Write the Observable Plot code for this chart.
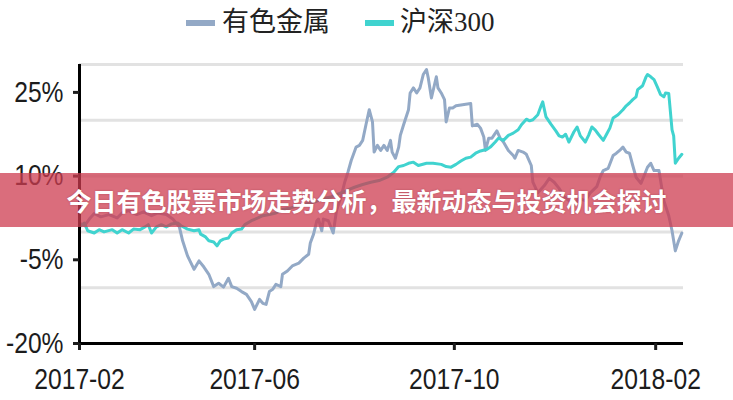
<!DOCTYPE html>
<html>
<head>
<meta charset="utf-8">
<script src="https://cdn.jsdelivr.net/npm/d3@7"></script>
<script src="https://cdn.jsdelivr.net/npm/@observablehq/plot@0.6"></script>
<style>
  body { margin: 0; background: #fff; }
  #wrap { position: relative; width: 733px; height: 400px; overflow: hidden; background: #fff; }
  #legend { position: relative; height: 46px; width: 733px; }
  .sw { position: absolute; height: 6px; width: 29px; }
  .lt { position: absolute; top: 5px; font-family: "Liberation Serif", "Noto Sans CJK SC", serif; font-weight: 400; font-size: 27px; line-height: 34px; color: #222; white-space: nowrap; }
  #banner { position: absolute; left: 0; top: 173px; width: 733px; height: 54px; background: rgba(205, 60, 80, 0.75); display: flex; align-items: center; justify-content: center; }
  #banner span { color: #fff; font-family: "Noto Sans CJK SC", sans-serif; font-weight: 700; font-size: 25px; white-space: nowrap; text-shadow: 0 0 2px rgba(120,20,40,0.4); }
</style>
</head>
<body>
<div id="wrap">
  <div id="legend"></div>
  <div id="chart"></div>
  <div id="banner"><span id="bannerText"></span></div>
</div>
<script>
// ---- data ----
const seriesNames = ["有色金属", "沪深300"];
const seriesColors = ["#93a9c6", "#40d3cf"];
const bannerTitle = "今日有色股票市场走势分析，最新动态与投资机会探讨";

const yTickValues = [25, 10, -5, -20];
const gridValues = [30, 20, 10, 0, -10];
const xTickDates = ["2017-02-14", "2017-06-01", "2017-10-01", "2018-02-01"];
const xTickLabels = ["2017-02", "2017-06", "2017-10", "2018-02"];
const xDomain = ["2017-02-14", "2018-02-18"];
const yDomain = [-20, 30];

// 有色金属
const metalDates = [
"2017-02-14","2017-02-17","2017-02-20","2017-02-23","2017-02-27","2017-03-04","2017-03-09","2017-03-12","2017-03-16","2017-03-21",
"2017-03-25","2017-03-30","2017-04-03","2017-04-08","2017-04-12","2017-04-16","2017-04-18","2017-04-21","2017-04-25","2017-04-28",
"2017-05-01","2017-05-04","2017-05-07","2017-05-10","2017-05-13","2017-05-16","2017-05-18","2017-05-21","2017-05-24","2017-05-27",
"2017-05-30","2017-06-01","2017-06-04","2017-06-06","2017-06-08","2017-06-10","2017-06-12","2017-06-14","2017-06-17","2017-06-18",
"2017-06-21","2017-06-24","2017-06-28","2017-07-01","2017-07-04","2017-07-05","2017-07-07","2017-07-09","2017-07-10","2017-07-12",
"2017-07-13","2017-07-16","2017-07-19","2017-07-21","2017-07-24","2017-07-26","2017-07-28","2017-07-30","2017-08-02","2017-08-04",
"2017-08-06","2017-08-08","2017-08-10","2017-08-12","2017-08-13","2017-08-15","2017-08-17","2017-08-19","2017-08-21","2017-08-23",
"2017-08-24","2017-08-26","2017-08-28","2017-08-29","2017-08-31","2017-09-03","2017-09-04","2017-09-06","2017-09-08","2017-09-10",
"2017-09-12","2017-09-14","2017-09-15","2017-09-17","2017-09-20","2017-09-21","2017-09-23","2017-09-25","2017-09-26","2017-09-28",
"2017-09-30","2017-10-02","2017-10-06","2017-10-11","2017-10-12","2017-10-15","2017-10-17","2017-10-19","2017-10-20","2017-10-22",
"2017-10-24","2017-10-27","2017-10-29","2017-10-31","2017-11-03","2017-11-06","2017-11-07","2017-11-09","2017-11-12","2017-11-14",
"2017-11-17","2017-11-18","2017-11-21","2017-11-25","2017-11-28","2017-12-01","2017-12-04","2017-12-07","2017-12-10","2017-12-13",
"2017-12-16","2017-12-20","2017-12-23","2017-12-27","2017-12-29","2017-12-31","2018-01-03","2018-01-06","2018-01-08","2018-01-10",
"2018-01-12","2018-01-14","2018-01-16","2018-01-18","2018-01-20","2018-01-23","2018-01-25","2018-01-27","2018-01-29","2018-01-31",
"2018-02-03","2018-02-05","2018-02-06","2018-02-09","2018-02-11","2018-02-13","2018-02-15","2018-02-17"
];
const metalValues = [
1.6,1.1,2.3,3.3,2.7,3.1,2.5,3.4,3.8,3.1,
3.6,2.9,3.4,3.1,2.3,0.9,-1.6,-4.3,-6.7,-5.2,
-6.3,-7.6,-9.8,-9.2,-9.9,-8.3,-9.8,-10.1,-10.7,-11.2,
-12.5,-13.9,-12.1,-12.8,-13.0,-10.7,-10.3,-9.4,-9.8,-7.6,
-7.0,-6.1,-5.6,-4.7,-4.0,-2.0,-0.4,2.0,2.3,0.2,
2.3,2.0,-0.2,3.8,6.5,8.9,10.7,12.8,15.2,15.5,
16.4,19.2,21.9,19.7,14.3,15.5,14.6,15.5,14.6,16.4,
14.3,13.2,15.2,17.3,19.2,21.9,24.9,25.8,24.9,25.8,
28.2,29.1,27.7,24.0,27.8,25.8,24.9,23.7,19.7,22.2,
22.2,22.6,22.8,23.0,19.0,19.3,18.6,17.0,14.6,16.8,
16.8,18.1,16.8,16.1,14.6,13.7,13.2,14.6,14.3,13.9,
11.9,8.9,7.0,8.3,9.6,8.9,7.8,6.3,5.6,4.7,
6.0,5.6,7.0,8.1,9.8,11.0,11.4,13.7,14.1,14.6,
15.2,14.3,14.1,11.9,9.8,8.7,10.1,11.6,12.3,11.0,
11.0,7.4,5.6,2.9,0.2,-3.4,-1.6,-0.2
];

// 沪深300
const hs300Dates = [
"2017-02-14","2017-02-17","2017-02-19","2017-02-23","2017-02-26","2017-03-01","2017-03-06","2017-03-09","2017-03-12","2017-03-16",
"2017-03-19","2017-03-23","2017-03-26","2017-03-28","2017-03-30","2017-04-02","2017-04-05","2017-04-08","2017-04-11","2017-04-15",
"2017-04-17","2017-04-21","2017-04-25","2017-04-28","2017-04-29","2017-05-02","2017-05-04","2017-05-07","2017-05-09","2017-05-11",
"2017-05-13","2017-05-16","2017-05-18","2017-05-21","2017-05-24","2017-05-26","2017-05-30","2017-06-03","2017-06-06","2017-06-10",
"2017-06-14","2017-06-18","2017-06-23","2017-06-28","2017-07-03","2017-07-08","2017-07-13","2017-07-18","2017-07-23","2017-07-27",
"2017-08-01","2017-08-06","2017-08-11","2017-08-16","2017-08-21","2017-08-25","2017-08-28","2017-08-31","2017-09-03","2017-09-06",
"2017-09-09","2017-09-14","2017-09-18","2017-09-23","2017-09-26","2017-09-29","2017-10-02","2017-10-05","2017-10-08","2017-10-11",
"2017-10-14","2017-10-17","2017-10-21","2017-10-23","2017-10-26","2017-10-28","2017-10-31","2017-11-03","2017-11-06","2017-11-09",
"2017-11-11","2017-11-14","2017-11-16","2017-11-18","2017-11-21","2017-11-23","2017-11-24","2017-11-26","2017-11-29","2017-12-02",
"2017-12-04","2017-12-06","2017-12-08","2017-12-10","2017-12-13","2017-12-15","2017-12-17","2017-12-20","2017-12-22","2017-12-24",
"2017-12-26","2017-12-28","2017-12-31","2018-01-02","2018-01-04","2018-01-06","2018-01-09","2018-01-12","2018-01-14","2018-01-16",
"2018-01-18","2018-01-20","2018-01-21","2018-01-24","2018-01-26","2018-01-27","2018-01-29","2018-01-31","2018-02-02","2018-02-04",
"2018-02-06","2018-02-07","2018-02-09","2018-02-11","2018-02-12","2018-02-13","2018-02-15","2018-02-17"
];
const hs300Values = [
0.9,1.6,0.2,-0.2,0.4,0.0,0.4,-0.2,0.4,-0.2,
0.5,0.4,0.9,1.3,-0.2,0.9,1.3,0.9,1.4,1.6,
1.1,0.5,0.2,0.4,-0.4,-0.9,-1.6,-1.8,-2.5,-1.6,
-1.3,-1.1,-0.2,0.4,0.5,1.3,2.0,2.5,2.9,3.1,
3.4,4.0,4.3,4.7,5.1,5.4,6.0,6.3,6.9,7.4,
8.0,8.5,8.9,9.2,9.8,10.7,11.7,11.9,12.3,12.5,
11.9,12.3,12.3,12.1,11.7,11.6,12.1,12.7,13.2,13.4,
14.1,14.5,14.8,15.2,16.1,16.8,16.4,17.3,17.7,18.3,
19.2,20.2,19.9,20.1,21.0,22.6,23.3,20.6,19.3,18.1,
17.2,17.0,17.5,16.1,17.9,18.8,17.2,16.1,17.3,18.8,
18.3,17.5,16.4,17.5,18.6,20.4,21.0,21.9,22.6,23.1,
23.7,24.2,25.5,26.2,27.7,28.2,27.8,27.3,26.0,24.6,
24.2,24.9,24.8,18.3,17.2,12.3,13.2,13.9
];

// ---- build tables ----
const parse = d3.utcParse("%Y-%m-%d");
const metal = metalDates.map((d, i) => ({date: parse(d), value: metalValues[i]}));
const hs300 = hs300Dates.map((d, i) => ({date: parse(d), value: hs300Values[i]}));
const xTicks = xTickDates.map(parse);
const xDom = xDomain.map(parse);

// ---- legend ----
const legend = document.getElementById("legend");
const legendLayout = [{sw: 186, tx: 222}, {sw: 365, tx: 400}];
seriesNames.forEach((name, i) => {
  const sw = document.createElement("div");
  sw.className = "sw";
  sw.style.left = legendLayout[i].sw + "px";
  sw.style.top = "20px";
  sw.style.background = seriesColors[i];
  legend.appendChild(sw);
  const t = document.createElement("div");
  t.className = "lt";
  t.style.left = legendLayout[i].tx + "px";
  t.textContent = name;
  legend.appendChild(t);
});
document.getElementById("bannerText").textContent = bannerTitle;

// ---- chart ----
const chart = Plot.plot({
  width: 733,
  height: 354,
  marginTop: 18,
  marginBottom: 57,
  marginLeft: 79,
  marginRight: 50,
  style: {fontFamily: "'Liberation Sans', Arial, sans-serif", color: "#1c1c1c", background: "transparent", overflow: "visible"},
  x: {type: "utc", domain: xDom},
  y: {domain: yDomain},
  marks: [
    Plot.ruleY(gridValues, {stroke: "#e2e2e2", strokeWidth: 3}),
    Plot.lineY(metal, {x: "date", y: "value", stroke: seriesColors[0], strokeWidth: 3, strokeLinejoin: "round"}),
    Plot.lineY(hs300, {x: "date", y: "value", stroke: seriesColors[1], strokeWidth: 3, strokeLinejoin: "round"}),
    Plot.ruleY([yDomain[0]], {stroke: "#000", strokeWidth: 3}),
    Plot.ruleX([xDom[0]], {y1: yDomain[0], y2: yDomain[1], stroke: "#000", strokeWidth: 3}),
    Plot.axisY({ticks: yTickValues, tickFormat: d => d + "%", tickSize: 6, tickPadding: 10, strokeWidth: 3, fontSize: 29, label: null}),
    Plot.axisX({ticks: xTicks, tickFormat: (d, i) => xTickLabels[i], tickSize: 7, tickPadding: 18, strokeWidth: 3, fontSize: 29, label: null})
  ]
});
document.getElementById("chart").appendChild(chart);

// horizontally condense the axis labels like the reference
chart.querySelectorAll("text").forEach(t => {
  const len = t.getComputedTextLength();
  if (len > 0) {
    t.setAttribute("textLength", (len * 0.85).toFixed(1));
    t.setAttribute("lengthAdjust", "spacingAndGlyphs");
  }
});
</script>
</body>
</html>
